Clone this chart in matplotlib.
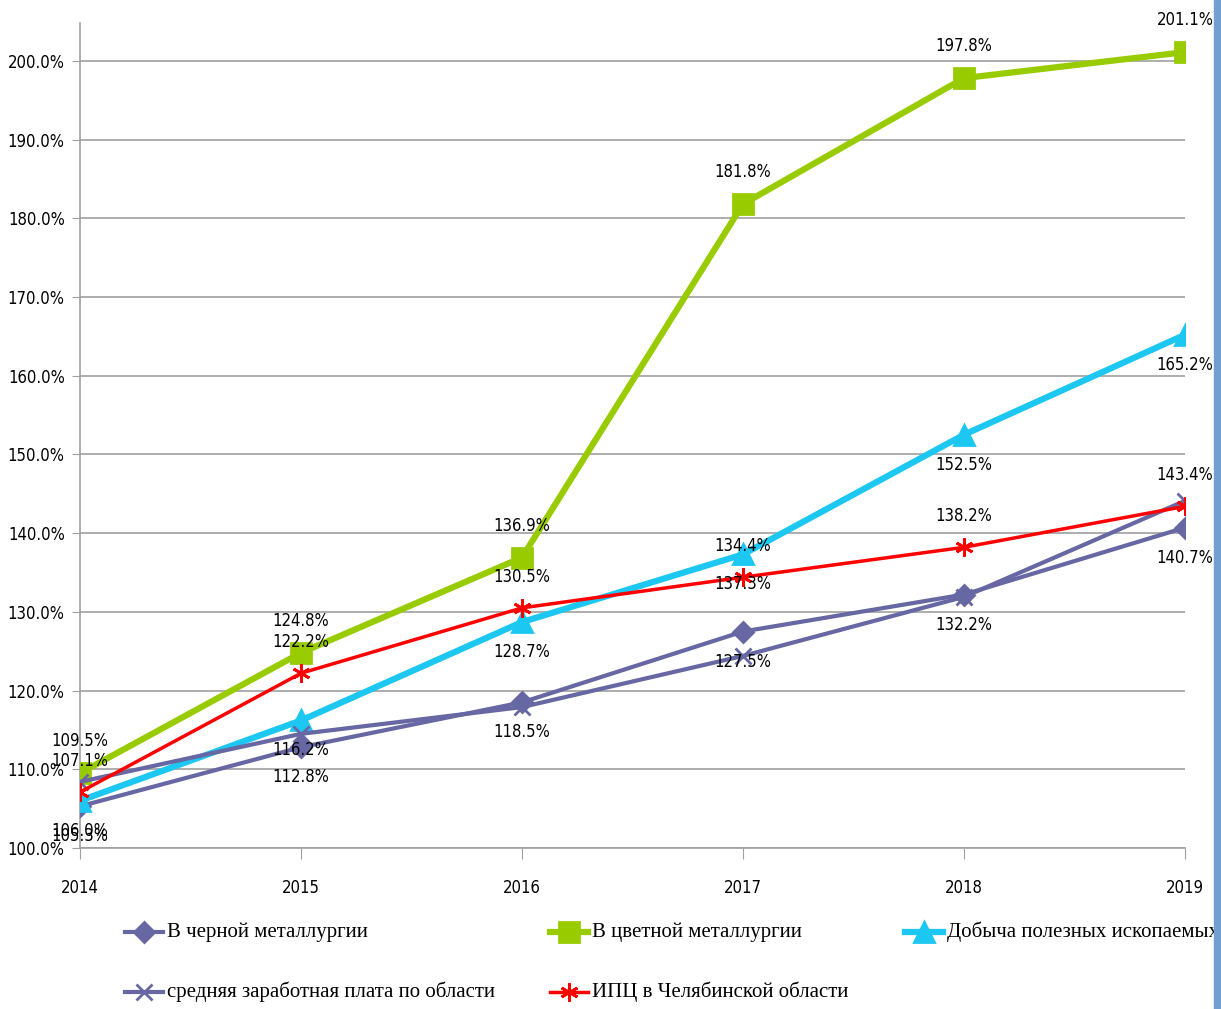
import os
import matplotlib
matplotlib.use("Agg")
import matplotlib.pyplot as plt
from matplotlib import font_manager as fm
from matplotlib.lines import Line2D
from matplotlib.patches import Rectangle

years = [2014, 2015, 2016, 2017, 2018, 2019]

ferrous = [105.3, 112.8, 118.5, 127.5, 132.2, 140.7]
nonferrous = [109.5, 124.8, 136.9, 181.8, 197.8, 201.1]
mining = [106.0, 116.2, 128.7, 137.3, 152.5, 165.2]
wage = [108.4, 114.5, 117.9, 124.4, 131.9, 144.1]
cpi = [107.1, 122.2, 130.5, 134.4, 138.2, 143.4]

names = ["В черной металлургии", "В цветной металлургии", "Добыча полезных ископаемых",
         "средняя заработная плата по области", "ИПЦ в Челябинской области"]


# look for a narrow face among installed fonts, else take a plain one
def pick(candidates, fallback):
    files = {os.path.basename(f.fname).lower(): f.fname for f in fm.fontManager.ttflist}
    for c in candidates:
        if c.lower() in files:
            return fm.FontProperties(fname=files[c.lower()])
    return fm.FontProperties(family=fallback)


sans_fp = pick(["LiberationSansNarrow-Regular.ttf", "DejaVuSansCondensed.ttf"], "Liberation Sans")
serif_fp = fm.FontProperties(family=["Liberation Serif", "DejaVu Serif"])
tick_size = 12

fig = plt.figure(figsize=(12.21, 10.09), dpi=100)
ax = fig.add_axes([80 / 1221, 1 - 848 / 1009, 1105 / 1221, 825 / 1009])

purple = "#6667A3"
green = "#99CC00"
cyan = "#1CC7F2"
red = "#FF0000"

# (values, color, linewidth, marker, markersize, label offset in px, show labels)
series = [
    (ferrous, purple, 3, "D", 10, -30, True),
    (nonferrous, green, 4.5, "s", 15, 32, True),
    (mining, cyan, 4.5, "^", 15, -30, True),
    (wage, purple, 3, "x", 11, 0, False),
    (cpi, red, 2.5, (6, 2, 0), 13, 31, True),
]

x = list(range(len(years)))
for vals, col, lw, mk, ms, off, show in series:
    ax.plot(x, vals, color=col, lw=lw, marker=mk, markersize=ms,
            markeredgecolor=col, markerfacecolor=col, markeredgewidth=2, zorder=3)
    if show:
        for xi, v in zip(x, vals):
            ax.annotate(f"{v:.1f}%", (xi, v), xytext=(0, off), textcoords="offset pixels",
                        ha="center", va="center", fontproperties=sans_fp, fontsize=tick_size,
                        zorder=5)

ax.set_xlim(0, 5)
ax.set_ylim(100, 204.8)
ax.set_yticks(range(100, 201, 10))
ax.set_yticklabels([f"{v:.1f}%" for v in range(100, 201, 10)])
ax.set_xticks(x)
ax.set_xticklabels([str(y) for y in years])
for lbl in ax.get_xticklabels() + ax.get_yticklabels():
    lbl.set_fontproperties(sans_fp)
    lbl.set_fontsize(tick_size)
ax.grid(axis="y", color="#A0A0A0", lw=1.2)
ax.set_axisbelow(True)
for s in ["top", "right"]:
    ax.spines[s].set_visible(False)
for s in ["left", "bottom"]:
    ax.spines[s].set_color("#A0A0A0")
    ax.spines[s].set_linewidth(1.2)
ax.tick_params(axis="y", length=6, color="#A0A0A0", pad=5)
ax.tick_params(axis="x", length=8, color="#A0A0A0", pad=14)

# legend drawn by hand, two rows
slots = [(125, 932), (550, 932), (905, 932), (125, 992), (550, 992)]
for (vals, col, lw, mk, ms, off, show), name, (px, py) in zip(series, names, slots):
    fy = 1 - py / 1009
    fig.add_artist(Line2D([px / 1221, (px + 38) / 1221], [fy, fy], color=col, lw=lw,
                          transform=fig.transFigure))
    fig.add_artist(Line2D([(px + 19) / 1221], [fy], color=col, marker=mk, markersize=ms,
                          markeredgecolor=col, markerfacecolor=col, markeredgewidth=2,
                          transform=fig.transFigure))
    fig.text((px + 42) / 1221, fy, name, fontproperties=serif_fp, fontsize=15,
             va="center", ha="left")

fig.add_artist(Rectangle((1214 / 1221, 0), 7 / 1221, 1, transform=fig.transFigure,
                         color="#729FD2", zorder=10))

fig.savefig("out.png", dpi=100)
